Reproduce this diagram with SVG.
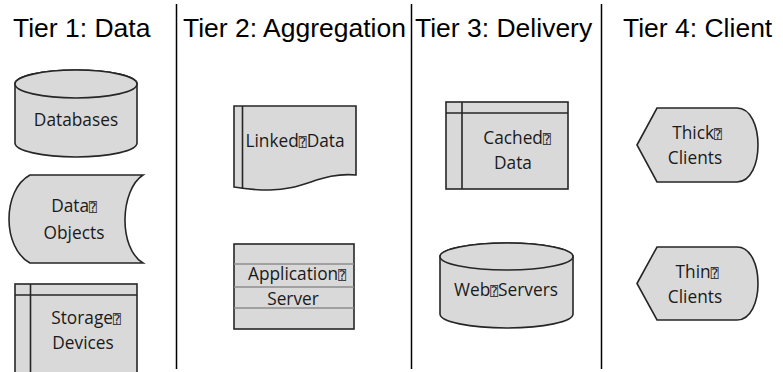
<svg xmlns="http://www.w3.org/2000/svg" width="783" height="372" viewBox="0 0 783 372">
<style>
.shape{fill:#d9d9d9;stroke:#262626;stroke-width:1.6}
.inner{fill:none;stroke:#262626;stroke-width:1.6}
.grey{fill:none;stroke:#8c8c8c;stroke-width:1.6}
.lbl{font-family:"Open Sans","Liberation Sans",sans-serif;font-size:17.3px;fill:#1a1a1a;text-anchor:middle}
.tofu{font-family:"DejaVu Sans Mono","DejaVu Sans",monospace;font-size:13px}
.title{font-family:"Liberation Sans",Arial,sans-serif;font-size:26.5px;fill:#000}
.div{stroke:#000;stroke-width:1.5}
</style>
<rect width="783" height="372" fill="#fff"/>
<g id="titles">
<text class="title" x="13" y="37">Tier 1: Data</text>
<text class="title" x="183" y="37">Tier 2: Aggregation</text>
<text class="title" x="415" y="37">Tier 3: Delivery</text>
<text class="title" x="623" y="37">Tier 4: Client</text>
</g>
<g id="dividers">
<line class="div" x1="176.5" y1="4" x2="176.5" y2="369"/>
<line class="div" x1="411.5" y1="4" x2="411.5" y2="369"/>
<line class="div" x1="601.5" y1="4" x2="601.5" y2="369"/>
</g>
<g id="connectors"></g>
<g id="databases">
<path class="shape" d="M15,84 L15,143 A61,14 0 0 0 137,143 L137,84 A61,14 0 0 0 15,84 Z"/>
<ellipse class="shape" cx="76" cy="84" rx="61" ry="14"/>
<text class="lbl" x="76" y="126">Databases</text>
</g>
<g id="data-objects">
<path class="shape" d="M30,175 L143,175 C120,190 118,248 143,263 L30,263 C2,248 2,190 30,175 Z"/>
<text class="lbl" x="74" y="212">Data<tspan class="tofu">⍰</tspan></text>
<text class="lbl" x="74" y="239">Objects</text>
</g>
<g id="storage-devices">
<rect class="shape" x="15" y="284" width="122" height="95"/>
<line class="inner" x1="30.5" y1="284" x2="30.5" y2="379"/>
<line class="inner" x1="15" y1="295" x2="137" y2="295"/>
<text class="lbl" x="86" y="324">Storage<tspan class="tofu">⍰</tspan></text>
<text class="lbl" x="83" y="349">Devices</text>
</g>
<g id="linked-data">
<path class="shape" d="M234,106 L356,106 L356,175 C320,172 305,190 270,190 C255,190 245,189 234,187 Z"/>
<line class="inner" x1="242.5" y1="106" x2="242.5" y2="188.5"/>
<text class="lbl" x="295" y="147">Linked<tspan class="tofu">⍰</tspan>Data</text>
</g>
<g id="application-server">
<rect class="shape" x="234" y="244" width="120" height="85"/>
<line class="grey" x1="234" y1="264" x2="354" y2="264"/>
<line class="grey" x1="234" y1="287" x2="354" y2="287"/>
<line class="grey" x1="234" y1="308" x2="354" y2="308"/>
<text class="lbl" x="297" y="280">Application<tspan class="tofu">⍰</tspan></text>
<text class="lbl" x="293" y="305">Server</text>
</g>
<g id="cached-data">
<rect class="shape" x="446" y="102" width="122" height="87"/>
<line class="inner" x1="462" y1="102" x2="462" y2="189"/>
<line class="inner" x1="446" y1="113" x2="568" y2="113"/>
<text class="lbl" x="517" y="144">Cached<tspan class="tofu">⍰</tspan></text>
<text class="lbl" x="513" y="169">Data</text>
</g>
<g id="web-servers">
<path class="shape" d="M440,256.5 L440,314 A66.5,14 0 0 0 573,314 L573,256.5 A66.5,13.5 0 0 0 440,256.5 Z"/>
<ellipse class="shape" cx="506.5" cy="256.5" rx="66.5" ry="13.5"/>
<text class="lbl" x="506" y="296">Web<tspan class="tofu">⍰</tspan>Servers</text>
</g>
<g id="thick-clients">
<path class="shape" d="M637,145 L657,108 L737,108 C765,108 765,182 737,182 L657,182 Z"/>
<text class="lbl" x="697" y="139">Thick<tspan class="tofu">⍰</tspan></text>
<text class="lbl" x="695" y="164">Clients</text>
</g>
<g id="thin-clients">
<path class="shape" d="M637,283.5 L657,247 L737,247 C765,247 765,320 737,320 L657,320 Z"/>
<text class="lbl" x="697" y="278">Thin<tspan class="tofu">⍰</tspan></text>
<text class="lbl" x="695" y="303">Clients</text>
</g>
</svg>
